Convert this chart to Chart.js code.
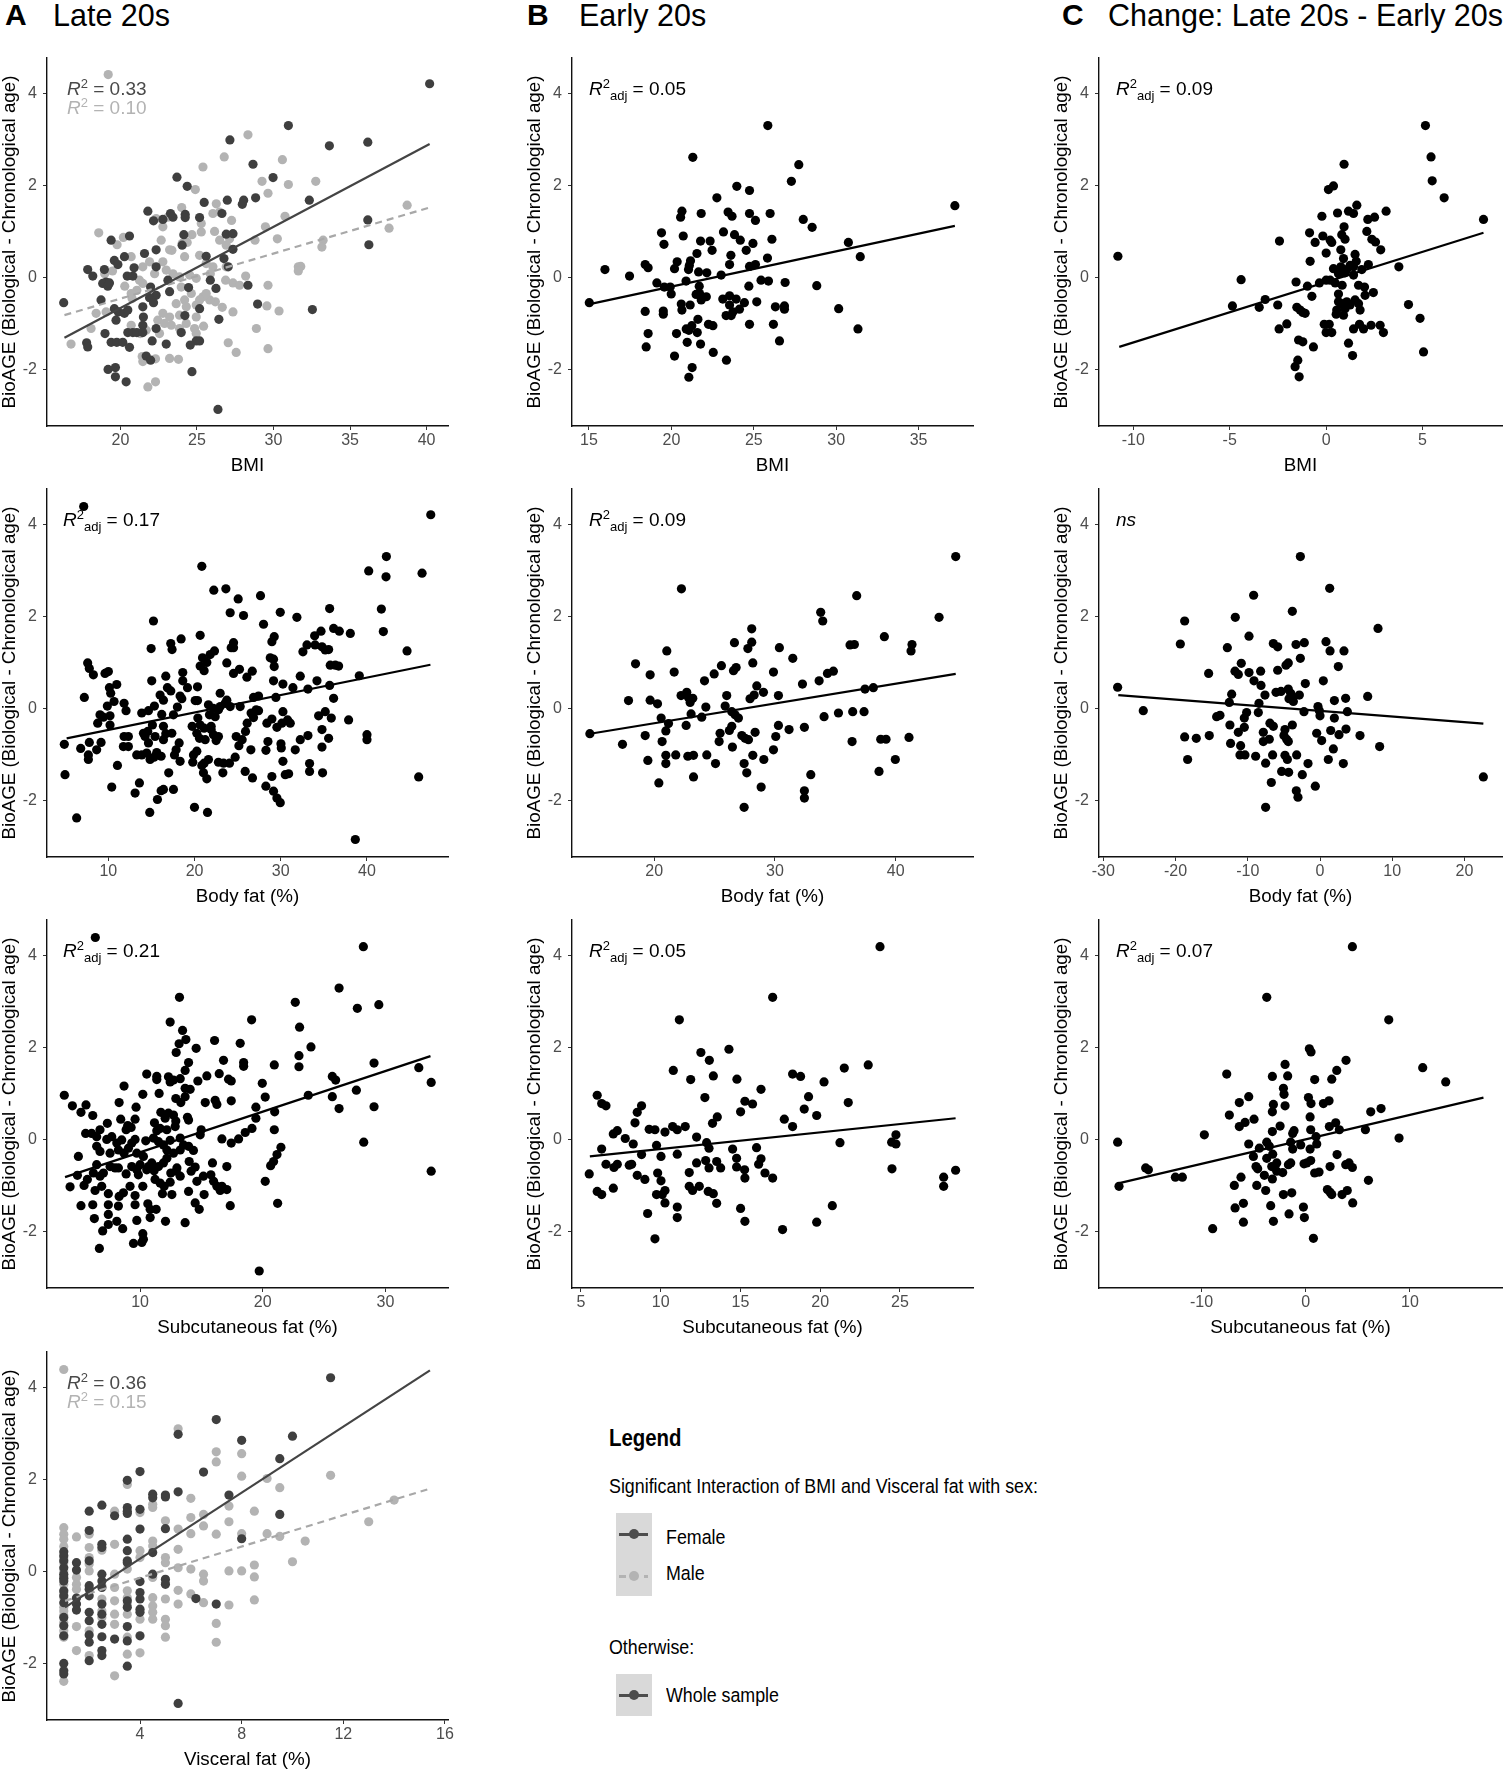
<!DOCTYPE html>
<html>
<head>
<meta charset="utf-8">
<script src="https://cdn.jsdelivr.net/npm/chart.js@4.4.1/dist/chart.umd.min.js"></script>
<style>
  body { margin: 0; background: #fff; font-family: "Liberation Sans", Arial, sans-serif; }
  #fig { position: relative; width: 1508px; height: 1772px; overflow: hidden; background: #fff; }
  .abs { position: absolute; white-space: nowrap; color: #000; }
  canvas { position: absolute; }
  .ptitle { font-size: 30.5px; line-height: 30px; top: 0; }
  .plet { font-size: 30px; line-height: 30px; top: 0; font-weight: bold; }
  .ann { font-size: 19px; line-height: 19px; z-index: 5; }
  .sup { font-size: 13px; position: relative; top: -7px; }
  .sub { font-size: 13px; position: relative; top: 5px; }
  .lg { transform: scaleX(0.87); transform-origin: 0 50%; font-size: 20.5px; line-height: 20.5px; }
  .key { position: absolute; background: #d9d9d9; }
  .seg { position: absolute; height: 3px; }
  .dot { position: absolute; width: 10px; height: 10px; border-radius: 50%; }
</style>
</head>
<body>
<div id="fig"></div>
<script>
// ---- values ----
const yTicks = [-2, 0, 2, 4];
const yRange = [-3.22, 4.78];

const bmiLateTicks = [20, 25, 30, 35, 40];
const bmiEarlyTicks = [15, 20, 25, 30, 35];
const bmiChangeTicks = [-10, -5, 0, 5];
const fatLateTicks = [10, 20, 30, 40];
const fatEarlyTicks = [20, 30, 40];
const fatChangeTicks = [-30, -20, -10, 0, 10, 20];
const subLateTicks = [10, 20, 30];
const subEarlyTicks = [5, 10, 15, 20, 25];
const subChangeTicks = [-10, 0, 10];
const visLateTicks = [4, 8, 12, 16];

// A: late 20s, BMI, by sex
const lateBmiF = [[40.2,4.22],[30.97,3.31],[27.15,3.0],[33.65,2.87],[36.16,2.95],[28.66,2.47],[29.97,2.18],[23.69,2.19],[24.36,1.99],[32.34,1.69],[36.16,1.26],[36.23,0.72],[28.83,1.74],[26.98,1.69],[28.05,1.69],[27.96,1.6],[25.47,1.64],[21.79,1.45],[23.27,1.4],[24.23,1.38],[24.23,1.31],[25.17,1.31],[22.16,1.24],[22.77,1.27],[23.43,1.32],[26.63,1.4],[20.59,0.91],[19.39,0.82],[24.14,0.94],[24.03,0.71],[26.91,0.95],[27.35,0.96],[27.35,0.62],[25.6,0.47],[26.76,0.42],[27.04,0.24],[21.57,0.53],[22.33,0.61],[20.26,0.46],[19.6,0.38],[19.83,0.29],[17.86,0.18],[18.19,0.04],[18.95,0.18],[20.89,0.22],[20.44,0.04],[20.81,0.04],[19.06,-0.09],[18.84,-0.12],[19.17,-0.18],[19.28,-0.11],[22.33,0.24],[23.1,-0.05],[23.21,-0.3],[24.45,-0.21],[25.87,-0.05],[26.24,-0.23],[28.33,-0.16],[21.97,-0.2],[22.33,-0.38],[21.9,-0.43],[18.73,-0.48],[16.29,-0.54],[22.16,-0.54],[21.46,-0.63],[19.6,-0.67],[19.86,-0.74],[20.26,-0.77],[20.48,-0.7],[19.71,-0.92],[21.5,-0.85],[24.21,-0.82],[25.17,-0.67],[28.96,-0.57],[32.54,-0.69],[26.43,-0.9],[21.46,-1.03],[22.33,-1.1],[20.48,-1.19],[20.81,-1.19],[21.07,-1.19],[21.46,-1.19],[23.97,-1.19],[18.99,-1.21],[22.07,-1.37],[22.99,-1.44],[19.39,-1.4],[19.76,-1.4],[20.15,-1.4],[17.79,-1.41],[17.86,-1.5],[20.59,-1.51],[24.95,-1.37],[25.17,-1.37],[24.56,-1.46],[21.68,-1.7],[21.97,-1.79],[19.19,-1.99],[19.67,-1.95],[19.67,-2.15],[20.37,-2.26],[24.67,-2.04],[26.37,-2.86]];
const lateBmiM = [[19.2,4.42],[28.33,3.11],[26.78,2.63],[25.39,2.41],[30.58,2.57],[29.25,2.1],[29.64,1.84],[30.97,2.03],[32.76,2.1],[24.89,1.92],[38.73,1.58],[37.55,1.08],[30.75,1.34],[29.47,1.11],[30.25,0.85],[28.79,0.82],[33.24,0.82],[33.16,0.67],[26.26,1.61],[26.04,1.4],[26.48,1.43],[24.0,1.53],[27.26,1.25],[25.28,1.18],[22.77,1.11],[22.33,1.29],[23.1,1.32],[18.58,0.98],[20.19,0.88],[19.78,0.72],[20.7,0.46],[22.66,0.82],[23.21,0.61],[23.36,0.6],[24.03,0.75],[24.67,0.94],[25.28,1.0],[26.15,1.01],[26.48,0.82],[27.13,0.85],[26.91,0.71],[24.36,0.77],[24.19,0.46],[25.17,0.49],[25.6,0.31],[26.04,0.24],[25.87,0.09],[26.91,0.24],[22.77,0.35],[21.9,0.35],[21.46,0.24],[22.23,0.09],[22.99,0.17],[23.43,0.09],[23.86,0.02],[24.52,0.06],[24.95,-0.01],[21.24,-0.05],[21.46,-0.12],[21.07,-0.27],[20.28,-0.18],[20.7,-0.34],[20.76,-0.45],[18.97,0.09],[19.48,0.15],[19.04,-0.12],[28.18,0.04],[27.35,-0.11],[27.78,-0.16],[29.64,-0.16],[26.87,-0.05],[31.62,0.24],[31.78,0.25],[31.62,0.15],[29.57,-0.61],[30.36,-0.72],[27.35,-0.74],[26.65,-0.64],[26.2,-0.52],[25.83,-0.48],[25.39,-0.41],[25.17,-0.48],[25.6,-0.34],[24.95,-0.59],[24.63,-0.34],[23.97,-0.2],[24.19,-0.48],[23.64,-0.56],[24.3,-0.63],[23.86,-0.81],[23.21,-0.85],[22.77,-0.77],[22.44,-0.92],[22.88,-0.99],[23.32,-1.03],[23.86,-1.1],[24.3,-0.99],[24.95,-0.85],[24.84,-1.1],[25.43,-1.05],[24.95,-1.21],[22.55,-1.21],[21.68,-1.14],[21.29,-1.21],[20.7,-1.03],[18.41,-0.77],[19.06,-0.74],[16.77,-1.44],[18.08,-1.1],[28.88,-1.1],[29.64,-1.54],[27.04,-1.41],[27.56,-1.62],[21.42,-1.71],[21.46,-1.82],[22.29,-1.76],[23.21,-1.75],[23.79,-1.77],[21.79,-2.37],[22.29,-2.26]];
const lateBmiFFit = [[16.34,-1.3],[40.2,2.91]];
const lateBmiMFit = [[16.34,-0.81],[40.2,1.53]];

// B: early 20s, BMI
const earlyBmi = [[25.85,3.31],[21.3,2.62],[27.73,2.46],[27.28,2.1],[23.97,1.99],[24.74,1.9],[22.76,1.74],[20.64,1.45],[20.56,1.32],[21.81,1.4],[23.44,1.43],[23.68,1.34],[24.74,1.4],[25.99,1.4],[25.1,1.25],[28.0,1.27],[28.54,1.1],[37.2,1.57],[19.4,0.98],[19.55,0.73],[20.72,0.91],[21.77,0.8],[22.35,0.8],[23.16,1.0],[23.83,0.94],[24.18,0.82],[24.95,0.75],[26.1,0.84],[24.54,0.6],[22.47,0.6],[21.55,0.53],[23.61,0.49],[30.74,0.77],[31.46,0.46],[25.83,0.43],[21.16,0.37],[20.35,0.35],[21.09,0.27],[23.53,0.29],[25.1,0.29],[24.74,0.25],[18.41,0.29],[18.59,0.22],[15.97,0.18],[17.46,0.04],[20.19,0.2],[21.04,0.18],[21.65,0.13],[22.15,0.11],[23.02,0.06],[20.89,-0.07],[19.12,-0.11],[19.57,-0.2],[19.93,-0.2],[19.99,-0.35],[21.69,-0.18],[25.44,-0.05],[25.89,-0.07],[26.9,-0.1],[28.82,-0.17],[24.7,-0.18],[21.5,-0.36],[21.81,-0.48],[22.12,-0.41],[21.71,-0.34],[23.53,-0.39],[23.12,-0.46],[23.93,-0.46],[24.43,-0.54],[25.18,-0.52],[15.02,-0.54],[20.6,-0.57],[21.14,-0.59],[23.53,-0.59],[26.31,-0.63],[26.86,-0.61],[26.86,-0.68],[30.15,-0.67],[18.41,-0.73],[19.51,-0.72],[19.51,-0.79],[20.64,-0.7],[24.13,-0.68],[23.73,-0.74],[23.32,-0.82],[23.63,-0.82],[21.61,-0.9],[24.74,-1.01],[26.19,-1.01],[22.25,-1.01],[22.52,-1.04],[21.24,-1.04],[20.9,-1.11],[21.06,-1.14],[31.32,-1.11],[18.59,-1.21],[20.31,-1.21],[21.57,-1.19],[20.96,-1.4],[21.77,-1.44],[26.56,-1.37],[18.47,-1.5],[20.19,-1.7],[22.54,-1.62],[23.34,-1.79],[21.26,-1.95],[21.06,-2.16]];
const earlyBmiFit = [[15.04,-0.57],[37.2,1.13]];

// C: change, BMI
const changeBmi = [[5.15,3.31],[5.44,2.63],[5.5,2.11],[6.12,1.74],[8.16,1.27],[0.93,2.47],[0.12,1.92],[0.38,2.0],[1.59,1.58],[1.16,1.45],[1.42,1.4],[0.59,1.41],[-0.22,1.34],[3.11,1.45],[2.51,1.32],[2.16,1.27],[0.93,1.11],[2.11,1.01],[-0.86,0.98],[-0.17,0.91],[0.81,0.94],[0.98,0.84],[0.29,0.77],[0.21,0.82],[-0.57,0.77],[2.37,0.84],[2.56,0.78],[2.83,0.61],[-2.42,0.8],[0.76,0.61],[0,0.54],[1.5,0.51],[0.9,0.42],[1.56,0.36],[1.24,0.27],[2.19,0.29],[3.77,0.24],[-0.83,0.36],[0.38,0.2],[0.76,0.24],[1.07,0.18],[1.42,0.24],[1.85,0.18],[0.64,0.09],[0.98,0.11],[1.42,0.06],[-10.8,0.47],[-4.41,-0.04],[-1.56,-0.09],[-0.35,-0.11],[0,-0.05],[0.21,-0.05],[0.47,-0.11],[-0.97,-0.18],[0.83,-0.16],[1.68,-0.16],[1.99,-0.2],[-0.74,-0.4],[0.64,-0.35],[2.02,-0.38],[2.45,-0.32],[-4.86,-0.61],[-3.47,-0.64],[-3.16,-0.47],[-2.51,-0.59],[-1.52,-0.64],[-1.35,-0.7],[-1.21,-0.75],[-1.09,-0.77],[0.64,-0.52],[0.81,-0.56],[1.07,-0.52],[1.24,-0.59],[1.5,-0.48],[1.68,-0.56],[1.76,-0.7],[0.98,-0.67],[0.55,-0.7],[0.52,-0.79],[0.9,-0.81],[4.27,-0.58],[4.87,-0.88],[-2.04,-1.0],[-2.44,-1.11],[-0.1,-1.01],[0.16,-1.01],[0,-1.19],[0.29,-1.19],[1.42,-1.11],[1.73,-1.01],[1.94,-1.11],[2.33,-1.03],[2.8,-1.03],[2.97,-1.19],[-1.43,-1.35],[-1.21,-1.39],[-0.66,-1.5],[1.16,-1.42],[1.37,-1.69],[5.05,-1.61],[-1.47,-1.79],[-1.61,-1.93],[-1.4,-2.15]];
const changeBmiFit = [[-10.73,-1.5],[8.16,0.98]];

// A: late 20s, body fat
const lateFat = [[7.14,4.4],[47.4,4.22],[20.84,3.1],[42.25,3.31],[40.2,3.0],[42.21,2.87],[46.39,2.95],[22.23,2.58],[23.63,2.61],[25.06,2.39],[27.65,2.46],[24.13,2.09],[25.68,2.03],[29.94,2.1],[31.87,1.99],[35.67,2.18],[41.67,2.17],[15.23,1.91],[28.0,1.84],[20.65,1.6],[18.44,1.52],[29.24,1.57],[28.97,1.46],[33.93,1.59],[34.67,1.69],[36.13,1.75],[36.79,1.69],[38.07,1.64],[41.9,1.68],[14.96,1.31],[17.24,1.42],[17.39,1.29],[24.52,1.44],[24.25,1.33],[24.52,1.33],[22.31,1.26],[21.81,1.18],[20.92,1.11],[21.42,1.01],[23.74,1.0],[20.65,0.93],[21.11,0.83],[25.21,0.86],[26.07,0.69],[26.69,0.82],[24.52,0.77],[33.04,1.39],[32.57,1.24],[33.98,1.39],[34.78,1.35],[35.16,1.28],[35.55,1.29],[28.78,1.11],[29.16,1.08],[29.24,0.92],[35.74,0.95],[36.33,0.95],[36.71,0.93],[44.65,1.26],[39.11,0.72],[7.6,1.0],[7.79,0.88],[8.26,0.74],[9.61,0.77],[10.0,0.81],[10.97,0.53],[10.12,0.46],[7.21,0.25],[10.27,0.34],[9.88,0.06],[10.66,0.16],[11.82,0.12],[12.05,-0.04],[9.03,-0.13],[9.42,-0.18],[8.76,-0.31],[10.19,-0.15],[10.19,-0.35],[15.03,0.61],[16.66,0.71],[16.85,0.46],[17.24,0.39],[16.0,0.3],[18.63,0.79],[18.63,0.61],[19.18,0.46],[18.32,0.28],[18.52,0.22],[18.01,0.04],[16.39,0.19],[15.34,0.06],[14.65,-0.04],[13.87,-0.09],[17.55,-0.13],[16.19,-0.12],[20.34,0.48],[20.07,0.18],[20.34,0.18],[19.72,-0.38],[20.38,-0.2],[20.65,-0.35],[20.26,-0.53],[20.57,-0.64],[21.23,-0.67],[21.11,-0.42],[21.73,-0.13],[21.61,0.09],[22.19,0.01],[22.77,-0.02],[22.39,-0.17],[22.97,0.05],[23.55,0.12],[24.13,0.05],[23.74,0.19],[25.29,0.05],[22.97,0.34],[21.92,-0.45],[22.19,-0.56],[22.5,-0.69],[22.77,-0.6],[21.92,-0.38],[24.83,-0.6],[25.14,-0.8],[25.52,-0.67],[26.1,-0.31],[25.91,-0.49],[26.56,-0.09],[27.15,-0.02],[26.84,-0.19],[27.42,-0.04],[26.84,0.25],[27.42,0.28],[29.43,0.25],[29.16,0.61],[30.25,0.54],[31.41,0.46],[32.26,0.71],[33.15,0.43],[34.2,0.61],[35.67,0.51],[36.13,0.23],[30.25,-0.06],[28.97,-0.22],[28.39,-0.31],[29.55,-0.4],[30.79,-0.24],[31.1,-0.31],[30.13,-0.31],[34.39,-0.15],[35.16,-0.06],[35.86,-0.2],[37.87,-0.24],[34.78,-0.45],[35.55,-0.64],[33.15,-0.58],[32.26,-0.67],[31.68,-0.89],[34.78,-0.83],[40.0,-0.56],[40.0,-0.67],[30.02,-0.76],[30.06,-0.85],[28.51,-0.71],[28.28,-0.9],[26.53,-0.89],[25.87,-1.36],[26.72,-1.5],[24.71,-1.05],[24.05,-1.18],[23.36,-1.18],[22.77,-1.16],[23.28,-1.39],[21.61,-1.1],[21.11,-1.18],[20.84,-1.23],[21.03,-1.39],[21.42,-1.52],[19.87,-1.0],[19.79,-1.16],[20.26,-0.92],[19.99,-2.14],[21.5,-2.25],[28.27,-1.68],[28.97,-1.47],[29.16,-1.79],[29.55,-1.94],[29.94,-2.04],[30.25,-1.14],[30.52,-1.43],[30.91,-1.41],[33.34,-1.19],[33.34,-1.36],[34.85,-1.39],[38.65,-2.84],[46.0,-1.48],[4.89,-0.77],[4.97,-1.43],[6.79,-0.86],[6.32,-2.37],[7.79,-0.73],[7.68,-1.0],[7.68,-1.1],[9.15,-0.73],[8.64,-0.89],[10.39,-1.7],[11.05,-1.23],[11.82,-0.6],[12.32,-0.6],[11.74,-0.82],[12.32,-0.82],[13.1,-1.83],[13.6,-1.61],[13.29,-1.0],[13.87,-1.0],[14.45,-0.96],[14.07,-0.53],[14.26,-0.6],[14.57,-0.49],[14.65,-0.74],[15.11,-0.35],[15.42,-0.6],[15.61,-0.95],[14.84,-1.1],[15.3,-1.05],[14.8,-2.25],[15.69,-1.97],[16.12,-1.78],[16.39,-1.75],[16.12,-1.03],[16.39,-0.38],[16.66,-0.54],[16.39,-0.67],[17.0,-1.39],[17.55,-1.75],[17.36,-0.53],[17.67,-1.0],[17.86,-0.89],[18.21,-0.74],[18.32,-1.14]];
const lateFatFit = [[5.16,-0.64],[47.36,0.96]];

// B: early 20s, body fat
const earlyFat = [[44.97,3.31],[22.26,2.61],[36.77,2.46],[33.79,2.1],[33.96,1.91],[43.59,1.99],[28.08,1.74],[39.06,1.57],[26.65,1.44],[28.08,1.45],[36.22,1.39],[36.58,1.4],[41.35,1.4],[41.27,1.26],[27.76,1.31],[30.37,1.33],[21.05,1.26],[31.48,1.1],[18.46,0.98],[28.17,1.0],[25.57,0.94],[24.97,0.76],[26.57,0.83],[26.79,0.9],[19.67,0.74],[21.66,0.8],[29.88,0.8],[34.35,0.77],[34.84,0.82],[33.66,0.61],[32.28,0.54],[24.17,0.61],[28.5,0.5],[29.05,0.36],[37.46,0.43],[38.15,0.46],[17.88,0.18],[19.67,0.19],[20.28,0.11],[22.23,0.29],[22.7,0.36],[22.84,0.25],[23.2,0.23],[22.98,0.14],[26.01,0.29],[27.94,0.22],[28.28,0.3],[30.29,0.29],[24.28,0.04],[25.88,0.06],[26.43,-0.06],[26.7,-0.13],[26.98,-0.2],[35.26,-0.09],[36.44,-0.06],[37.38,-0.06],[20.58,-0.2],[21.19,-0.32],[20.97,-0.48],[23.06,-0.11],[23.94,-0.18],[22.65,-0.36],[19.26,-0.58],[20.66,-0.71],[14.68,-0.54],[17.38,-0.77],[25.46,-0.53],[25.38,-0.71],[26.43,-0.38],[26.23,-0.47],[26.48,-0.83],[27.26,-0.58],[27.81,-0.67],[28.36,-0.51],[27.53,-0.64],[30.29,-0.36],[30.07,-0.6],[31.17,-0.45],[32.44,-0.4],[34.07,-0.17],[29.88,-0.89],[36.39,-0.71],[38.76,-0.66],[39.2,-0.66],[41.1,-0.62],[19.48,-1.12],[20.97,-1.01],[20.97,-1.19],[21.79,-1.0],[22.79,-1.03],[23.26,-1.01],[24.36,-1.0],[25.08,-1.19],[27.45,-1.19],[28.17,-1.01],[29.08,-1.1],[39.97,-1.1],[20.39,-1.61],[23.26,-1.48],[27.67,-1.39],[28.86,-1.7],[32.97,-1.43],[32.44,-1.78],[32.44,-1.94],[27.45,-2.14],[38.62,-1.36]];
const earlyFatFit = [[14.7,-0.54],[44.97,0.76]];

// C: change, body fat
const changeFat = [[-2.72,3.31],[1.34,2.62],[-9.19,2.47],[-3.83,2.12],[-11.73,1.99],[-18.74,1.91],[8.03,1.75],[-19.34,1.41],[-9.83,1.58],[-12.83,1.33],[-6.46,1.42],[-5.86,1.35],[-3.32,1.4],[-2.17,1.44],[0.83,1.46],[1.39,1.26],[3.32,1.26],[-2.72,1.1],[2.54,0.92],[-10.9,0.99],[-11.77,0.82],[-11.31,0.75],[-9.83,0.79],[-8.22,0.82],[-5.86,0.84],[-4.71,0.95],[-4.39,1.0],[-15.42,0.77],[-9.14,0.61],[-8.17,0.51],[-2.03,0.55],[0.46,0.61],[-28.02,0.47],[-12.23,0.32],[-7.62,0.3],[-6.09,0.36],[-5.4,0.38],[-4.39,0.43],[-4.06,0.34],[-2.86,0.3],[-4.29,0.22],[-3.69,0.16],[-3.79,0.25],[-12.56,0.14],[-8.45,0.12],[1.99,0.18],[3.55,0.23],[6.6,0.27],[-24.47,-0.04],[-0.28,0.05],[-0.09,-0.04],[0,-0.15],[-2.22,-0.06],[3.79,-0.06],[-14.31,-0.17],[-13.85,-0.14],[-10.16,-0.08],[-10.48,-0.2],[-8.54,-0.08],[1.99,-0.2],[-12.47,-0.35],[-10.48,-0.4],[-6.93,-0.31],[-6.46,-0.38],[-3.83,-0.35],[-11.31,-0.51],[-7.85,-0.51],[-4.85,-0.45],[-4.99,-0.58],[-4.62,-0.66],[-7.02,-0.66],[-7.85,-0.71],[-0.46,-0.53],[1.48,-0.47],[2.63,-0.56],[3.6,-0.44],[0.23,-0.69],[5.54,-0.58],[-18.74,-0.61],[-17.13,-0.64],[-15.33,-0.58],[-12.38,-0.75],[-10.99,-0.8],[-4.39,-0.71],[1.85,-0.87],[8.26,-0.82],[-18.33,-1.1],[-11.08,-1.0],[-10.39,-1.0],[-8.91,-1.03],[-6.56,-1.0],[-4.85,-1.01],[-4.52,-1.1],[-3.23,-1.0],[-7.53,-1.18],[-1.66,-1.19],[1.15,-1.1],[3.23,-1.19],[-5.31,-1.36],[-4.34,-1.38],[-2.45,-1.43],[-6.74,-1.6],[-0.65,-1.68],[-3.28,-1.78],[-3.05,-1.92],[-7.53,-2.14],[22.62,-1.48]];
const changeFatFit = [[-27.93,0.3],[22.62,-0.32]];

// A: late 20s, subcutaneous fat
const lateSub = [[6.35,4.4],[28.2,4.2],[13.21,3.1],[26.22,3.3],[27.71,2.86],[29.46,2.94],[22.65,2.99],[19.09,2.61],[12.45,2.56],[13.46,2.38],[13.73,2.18],[13.18,2.09],[16.07,2.16],[18.16,2.1],[23.0,2.45],[23.93,2.02],[14.57,1.99],[12.94,1.9],[13.95,1.68],[16.8,1.73],[18.44,1.68],[18.44,1.6],[20.94,1.63],[22.95,1.83],[22.95,1.59],[29.07,1.67],[32.72,1.57],[33.73,1.25],[13.67,1.51],[10.54,1.43],[11.36,1.38],[11.36,1.31],[12.31,1.37],[12.45,1.26],[12.72,1.3],[13.27,1.33],[14.71,1.28],[15.44,1.39],[16.45,1.44],[17.21,1.32],[17.43,1.28],[19.96,1.23],[25.67,1.38],[25.94,1.3],[27.63,1.08],[25.67,0.94],[26.22,0.68],[29.07,0.72],[23.71,0.97],[20.2,0.93],[3.82,0.97],[8.69,1.17],[10.22,0.99],[11.55,1.01],[13.67,1.12],[14.08,1.1],[12.91,0.9],[13.32,0.81],[13.67,0.94],[15.31,0.81],[16.12,0.86],[16.26,0.77],[17.43,0.85],[4.48,0.74],[5.59,0.76],[5.18,0.6],[6.14,0.53],[8.29,0.81],[9.67,0.71],[7.33,0.36],[8.42,0.45],[9.59,0.45],[8.99,0.31],[8.86,0.22],[9.27,0.27],[11.17,0.37],[11.69,0.6],[12.04,0.47],[12.31,0.58],[12.72,0.54],[12.91,0.41],[13.86,0.49],[13.95,0.43],[12.86,0.29],[11.36,0.2],[11.63,0.25],[12.18,0.22],[14.98,0.22],[14.9,0.11],[19.44,0.71],[19.44,0.47],[19.12,0.25],[18.57,0.16],[18.03,0.02],[16.67,0.02],[17.43,-0.07],[20.97,0.61],[20.94,0.22],[5.56,0.14],[6.05,0.14],[6.46,0.07],[6.73,0.22],[7.28,0.01],[7.69,0.07],[8.1,-0.07],[8.5,0],[9.32,-0.07],[9.59,0.01],[10.46,-0.02],[11.09,0.04],[11.5,-0.04],[11.9,-0.11],[12.45,-0.01],[13.27,0.04],[13.54,-0.11],[12.18,-0.22],[12.72,-0.29],[13.27,-0.22],[13.95,-0.14],[14.35,-0.23],[6.46,-0.14],[6.73,-0.25],[7.55,-0.29],[8.23,-0.22],[8.69,-0.29],[9.05,-0.18],[9.73,-0.29],[10.27,-0.36],[4.97,-0.36],[4.89,-0.77],[4.29,-1.02],[5.18,-1.43],[5.43,-0.99],[5.7,-0.86],[6.46,-0.54],[6.19,-0.72],[6.73,-0.79],[7.01,-0.72],[6.87,-1.01],[6.33,-1.1],[6.14,-1.41],[6.27,-1.71],[6.68,-2.36],[6.95,-1.98],[7.41,-1.17],[7.55,-0.58],[7.96,-0.61],[8.23,-0.61],[8.86,-0.74],[7.41,-1.41],[7.41,-1.62],[7.41,-1.84],[8.1,-1.77],[8.23,-1.44],[8.29,-1.23],[8.64,-1.15],[8.58,-1.93],[9.18,-1.01],[9.59,-1.21],[9.59,-1.41],[9.73,-1.75],[9.46,-2.25],[10.22,-2.04],[10.27,-2.16],[10.14,-2.23],[9.32,-0.58],[9.73,-0.65],[9.86,-0.76],[10.0,-0.54],[10.22,-1.01],[10.54,-0.65],[10.68,-0.58],[10.95,-0.5],[11.14,-0.67],[11.5,-0.58],[11.9,-0.5],[10.63,-1.39],[10.82,-1.51],[11.31,-1.51],[10.82,-1.69],[11.22,-0.86],[11.63,-0.94],[11.96,-1.01],[11.82,-1.17],[12.07,-1.77],[12.18,-0.4],[12.5,-0.72],[12.45,-0.92],[12.59,-1.19],[12.94,-0.68],[13.27,-0.79],[13.0,-0.61],[13.67,-1.8],[13.95,-1.12],[14.0,-0.47],[14.16,-0.68],[14.49,-0.59],[14.63,-0.9],[14.49,-1.37],[14.82,-1.51],[15.22,-1.19],[15.16,-0.79],[15.77,-0.76],[15.9,-0.5],[15.99,-0.9],[16.26,-1.01],[16.53,-1.1],[16.67,-1.01],[17.07,-1.08],[17.07,-0.58],[17.35,-1.43],[20.2,-0.9],[20.64,-0.56],[20.88,-0.47],[21.16,-0.32],[21.48,-0.16],[21.21,-1.38],[19.71,-2.85],[28.23,-0.05],[33.73,-0.68]];
const lateSubFit = [[3.88,-0.81],[33.67,1.82]];

// B: early 20s, subcutaneous fat
const earlySub = [[23.75,4.2],[17.02,3.1],[11.17,2.61],[14.28,1.97],[12.52,1.9],[13.05,1.73],[23.01,1.63],[21.51,1.56],[10.79,1.51],[13.3,1.39],[18.27,1.43],[18.77,1.38],[11.88,1.31],[14.78,1.32],[20.24,1.26],[16.29,1.1],[6.02,0.97],[6.3,0.79],[6.57,0.74],[8.8,0.74],[8.53,0.6],[12.77,0.92],[15.28,0.84],[15.76,0.78],[15.01,0.61],[19.27,0.94],[19.0,0.67],[21.76,0.81],[19.78,0.53],[8.39,0.37],[13.55,0.5],[13.25,0.36],[17.75,0.45],[18.27,0.29],[7.03,0.13],[7.28,0.2],[7.78,0.03],[9.28,0.23],[9.64,0.22],[10.27,0.17],[10.75,0.29],[11.04,0.22],[11.54,0.29],[12.25,0.06],[12.88,-0.06],[13.03,-0.18],[9.74,-0.12],[8.28,-0.09],[6.3,-0.2],[8.8,-0.32],[10.02,-0.36],[11.04,-0.31],[14.51,-0.2],[16.01,-0.17],[21.24,-0.06],[24.48,-0.05],[24.75,-0.09],[24.75,0.11],[6.57,-0.53],[7.28,-0.53],[7.07,-0.6],[8.03,-0.55],[8.18,-0.53],[5.52,-0.74],[8.53,-0.77],[9.01,-0.86],[9.81,-0.72],[10.02,-0.89],[12.25,-0.5],[12.82,-0.45],[13.03,-0.61],[13.51,-0.47],[13.76,-0.61],[14.76,-0.4],[14.76,-0.59],[15.26,-0.65],[15.28,-0.83],[16.14,-0.53],[16.29,-0.41],[16.54,-0.72],[17.02,-0.83],[11.79,-0.71],[24.5,-0.63],[27.74,-0.81],[27.74,-1.01],[28.49,-0.66],[6.02,-1.12],[6.3,-1.19],[7.03,-1.05],[9.74,-1.19],[10.1,-1.19],[10.27,-1.1],[10.27,-1.37],[11.79,-1.01],[12.0,-1.1],[12.42,-1.01],[12.98,-1.12],[13.3,-1.17],[13.51,-1.38],[11.04,-1.46],[11.04,-1.69],[9.18,-1.6],[9.64,-2.15],[15.01,-1.49],[15.28,-1.77],[20.76,-1.43],[19.78,-1.79],[17.64,-1.95]];
const earlySubFit = [[5.56,-0.36],[28.49,0.47]];

// C: change, subcutaneous fat
const changeSub = [[4.48,4.2],[-3.74,3.1],[7.97,2.61],[0.35,1.98],[0.51,1.91],[3.87,1.73],[-1.98,1.64],[11.23,1.57],[-7.58,1.43],[-3.2,1.38],[-1.73,1.39],[2.98,1.51],[2.5,1.32],[0.86,1.31],[13.44,1.26],[-2.14,1.12],[-2.08,0.99],[-5.47,0.94],[-6.37,0.81],[-3.1,0.77],[-1.98,0.74],[0.26,0.92],[0.51,0.79],[1.7,0.79],[2.24,0.85],[-3.2,0.61],[-7.33,0.54],[6.24,0.61],[7.23,0.68],[-4.96,0.45],[-5.82,0.38],[-6.37,0.29],[-2.46,0.3],[-3.2,0.18],[-1.12,0.2],[-1.25,0.14],[0.42,0.5],[0.48,0.22],[2.27,0.29],[2.88,0.37],[3.23,0.22],[5.73,0.22],[-9.73,0.11],[8.96,0.04],[-18.05,-0.05],[0.99,0.07],[1.06,-0.09],[-5.47,-0.09],[-3.74,-0.05],[-3.49,-0.14],[-4.45,-0.18],[-1.44,-0.05],[-1.25,-0.2],[-0.48,-0.11],[0.42,-0.2],[-5.02,-0.36],[-3.74,-0.4],[-3.17,-0.31],[3.01,-0.32],[-1.44,-0.5],[-1.66,-0.54],[-0.16,-0.52],[0.1,-0.5],[0.48,-0.45],[-4.77,-0.58],[-4.61,-0.63],[-3.26,-0.58],[-2.78,-0.5],[-2.78,-0.68],[-2.21,-0.71],[-3.97,-0.77],[-3.2,-0.85],[0.86,-0.72],[1.28,-0.7],[2.34,-0.58],[3.84,-0.54],[4.16,-0.5],[4.48,-0.6],[-6.21,-0.81],[-15.36,-0.61],[-15.1,-0.65],[-12.51,-0.81],[-11.84,-0.81],[-17.92,-1.01],[-6.85,-0.99],[-4.7,-0.99],[-3.84,-1.1],[-2.14,-1.19],[-1.34,-1.15],[6.02,-0.88],[2.08,-1.08],[2.34,-1.14],[2.5,-1.19],[3.49,-1.19],[3.99,-1.1],[4.51,-1.37],[-6.78,-1.48],[-5.98,-1.38],[-3.36,-1.43],[-0.22,-1.46],[-1.6,-1.61],[-0.13,-1.69],[-5.98,-1.79],[-3.1,-1.77],[-8.93,-1.93],[0.74,-2.14]];
const changeSubFit = [[-17.89,-0.94],[17.06,0.92]];

// A: late 20s, visceral fat, by sex
const lateVisF = [[1,0.44],[1,0.35],[1,0.24],[1,0.09],[1,-0.05],[1,-0.14],[1,-0.2],[1,-0.41],[1,-0.52],[1,-0.67],[1,-0.99],[1,-1.17],[1,-1.39],[1,-1.99],[1,-2.15],[1,-2.22],[1.5,0.2],[1.5,0.04],[1.5,-0.57],[1.5,-0.7],[1.5,-0.83],[2,1.32],[2,0.9],[2,0.24],[2,-0.3],[2,-0.38],[2,-0.52],[2,-0.88],[2,-1.06],[2,-1.37],[2,-1.53],[2,-1.93],[2.5,1.45],[2.5,0.6],[2.5,0.53],[2.5,-0.05],[2.5,-0.2],[2.5,-0.34],[2.5,-0.7],[2.5,-0.92],[2.5,-1.14],[2.5,-1.41],[2.5,-1.71],[2.5,-1.82],[3,1.22],[3,-1.46],[3.5,1.99],[3.5,1.4],[3.5,1.32],[3.5,1.27],[3.5,0.71],[3.5,0.46],[3.5,0.24],[3.5,0.2],[3.5,-0.63],[3.5,-0.77],[3.5,-1.19],[3.5,-1.5],[3.5,-2.05],[4,2.18],[4,1.36],[4,0.93],[4,-0.21],[4,-0.45],[4,-0.59],[4,-0.81],[4,-0.88],[4,-1.39],[4.5,1.69],[4.5,1.61],[4.5,0.42],[4.5,-0.05],[5,1.67],[5,1.63],[5,0.94],[5,-0.16],[5,-0.27],[5.5,2.99],[5.5,1.74],[5.5,-2.86],[6.2,-0.58],[6.5,2.17],[7,3.31],[7,-0.7],[7.5,1.67],[8,2.86],[8,0.72],[9.5,2.46],[9.5,1.25],[10,2.95],[11.5,4.22]];
const lateVisM = [[1,4.4],[1,0.96],[1,0.82],[1,0.71],[1,0.55],[1,0.3],[1,0.2],[1,0.02],[1,-0.1],[1,-0.27],[1,-0.45],[1,-0.56],[1,-0.77],[1,-0.85],[1,-0.95],[1,-1.1],[1,-1.28],[1,-1.42],[1,-2.38],[1.5,0.76],[1.5,-0.12],[1.5,-0.27],[1.5,-0.38],[1.5,-1.19],[1.5,-1.71],[2,0.82],[2,0.53],[2,0.31],[2,0.17],[2,0.02],[2,-1.28],[2,-1.82],[2.5,0.47],[2.5,-0.3],[2.5,-0.59],[2.5,-0.85],[2.5,-0.99],[3,1.32],[3,0.6],[3,-0.05],[3,-0.34],[3,-0.63],[3,-0.92],[3,-1.14],[3,-2.26],[3.5,1.9],[3.5,0.06],[3.5,-0.41],[3.5,-0.56],[3.5,-0.7],[3.5,-0.92],[3.5,-1.42],[3.5,-1.79],[4,1.29],[4,0.46],[4,0.31],[4,-1.03],[4,-1.76],[4.5,1.47],[4.5,1.4],[4.5,0.67],[4.5,0.56],[4.5,-0.12],[4.5,-0.56],[4.5,-0.74],[4.5,-0.88],[4.5,-1.03],[5,1.11],[5,0.31],[5,0.2],[5,-0.23],[5,-0.59],[5,-1.03],[5,-1.17],[5,-1.42],[5.5,3.11],[5.5,0.93],[5.5,0.49],[5.5,0.09],[5.5,-0.4],[5.5,-0.7],[6,1.6],[6,1.18],[6,0.83],[6,0.06],[6,-0.48],[6.5,1.25],[6.5,1.0],[6.5,-0.05],[6.5,-0.2],[6.5,-0.67],[7,2.61],[7,2.39],[7,0.82],[7,-1.12],[7,-1.53],[7.5,1.43],[7.5,1.09],[7.5,0.02],[7.5,-0.72],[8,2.57],[8,2.08],[8,0.83],[8,0.02],[8.5,1.32],[8.5,0.15],[8.5,-0.11],[8.5,-0.61],[9,2.03],[9,0.83],[9.5,1.83],[9.5,0.77],[10,0.22],[10.5,0.67],[11.5,2.1],[13,1.09],[14,1.56]];
const lateVisFFit = [[1.05,-0.77],[15.41,4.38]];
const lateVisMFit = [[1.05,-0.63],[15.41,1.81]];

// ---- layout and styles ----
const FONT = '"Liberation Sans", Arial, sans-serif';
const colX = [47, 572, 1099];
const colW = [401, 401, 403];
const rowY = [58, 489, 920, 1352];
const plotH = 368;
const FEMALE = '#3f3f3f', MALE = '#b3b3b3', WHOLE = '#000000';
const yTitle = 'BioAGE (Biological - Chronological age)';

Chart.defaults.font.family = FONT;

const fig = document.getElementById('fig');

function toXY(arr) { return arr.map(p => ({ x: p[0], y: p[1] })); }

function pointSet(arr, color, order) {
  return { data: toXY(arr), backgroundColor: color, borderColor: color, borderWidth: 0,
           pointRadius: 4.6, pointHoverRadius: 4.6, order: order, clip: false };
}
function fitSet(arr, color, dash, order) {
  return { data: toXY(arr), showLine: true, pointRadius: 0, borderColor: color, borderWidth: 2.2,
           borderDash: dash, fill: false, order: order, clip: false };
}

function addPanel(p) {
  const padL = 48, padT = 24, padR = 22, padB = 51;
  const w = padL + colW[p.col] + padR, h = padT + plotH + padB;
  const cv = document.createElement('canvas');
  cv.width = w; cv.height = h;
  cv.style.left = (colX[p.col] - padL) + 'px';
  cv.style.top = (rowY[p.row] - padT) + 'px';
  cv.style.width = w + 'px'; cv.style.height = h + 'px';
  fig.appendChild(cv);

  const tickGrid = { display: true, drawOnChartArea: false, drawTicks: true, tickLength: 4, color: '#333', lineWidth: 1 };
  const axisBorder = { display: true, color: '#111', width: 1.4 };

  new Chart(cv, {
    type: 'scatter',
    data: { datasets: p.sets },
    options: {
      responsive: false, animation: false, events: [],
      layout: { padding: { left: 0, top: padT, right: padR, bottom: 0 } },
      plugins: { legend: { display: false }, tooltip: { enabled: false } },
      scales: {
        x: {
          type: 'linear', position: 'bottom', min: p.xr[0], max: p.xr[1],
          afterBuildTicks: s => { s.ticks = p.xt.map(v => ({ value: v })); },
          afterFit: s => { s.height = padB; },
          grid: tickGrid, border: axisBorder,
          ticks: { autoSkip: false, maxRotation: 0, padding: 1, color: '#4d4d4d', font: { size: 16 }, callback: v => String(v) },
          title: { display: true, text: p.xTitle, color: '#000', font: { size: 18.8 }, padding: 0 }
        },
        y: {
          type: 'linear', position: 'left', min: yRange[0], max: yRange[1],
          afterBuildTicks: s => { s.ticks = yTicks.map(v => ({ value: v })); },
          afterFit: s => { s.width = padL; },
          grid: tickGrid, border: axisBorder,
          ticks: { autoSkip: false, padding: 6, color: '#4d4d4d', font: { size: 16 }, callback: v => String(v) },
          title: { display: true, text: yTitle, color: '#000', font: { size: 18.8 }, padding: 0 }
        }
      }
    }
  });

  // fit statistics text
  p.ann.forEach((a, i) => {
    const d = document.createElement('div');
    d.className = 'abs ann';
    d.style.color = a.color;
    d.style.left = (colX[p.col] + a.dx) + 'px';
    d.style.top = (rowY[p.row] + 20.7 + i * 19) + 'px';
    d.innerHTML = a.html;
    fig.appendChild(d);
  });
}

const r2 = v => '<i>R</i><span class="sup">2</span> = ' + v;
const r2adj = v => '<i>R</i><span class="sup">2</span><span class="sub">adj</span> = ' + v;

const sexSets = (f, m, ff, mf) => [
  fitSet(ff, '#444444', [], 0), fitSet(mf, '#a8a8a8', [7, 5], 1),
  pointSet(f, FEMALE, 2), pointSet(m, MALE, 3)
];
const wholeSets = (pts, fit) => [fitSet(fit, '#000', [], 0), pointSet(pts, WHOLE, 1)];

const panels = [
  { col: 0, row: 0, xr: [15.2, 41.4], xt: bmiLateTicks, xTitle: 'BMI',
    sets: sexSets(lateBmiF, lateBmiM, lateBmiFFit, lateBmiMFit),
    ann: [{ html: r2('0.33'), color: '#4a4a4a', dx: 20 }, { html: r2('0.10'), color: '#b3b3b3', dx: 20 }] },
  { col: 1, row: 0, xr: [13.97, 38.3], xt: bmiEarlyTicks, xTitle: 'BMI',
    sets: wholeSets(earlyBmi, earlyBmiFit), ann: [{ html: r2adj('0.05'), color: '#000', dx: 17 }] },
  { col: 2, row: 0, xr: [-11.78, 9.12], xt: bmiChangeTicks, xTitle: 'BMI',
    sets: wholeSets(changeBmi, changeBmiFit), ann: [{ html: r2adj('0.09'), color: '#000', dx: 17 }] },
  { col: 0, row: 1, xr: [2.88, 49.4], xt: fatLateTicks, xTitle: 'Body fat (%)',
    sets: wholeSets(lateFat, lateFatFit), ann: [{ html: r2adj('0.17'), color: '#000', dx: 16 }] },
  { col: 1, row: 1, xr: [13.2, 46.4], xt: fatEarlyTicks, xTitle: 'Body fat (%)',
    sets: wholeSets(earlyFat, earlyFatFit), ann: [{ html: r2adj('0.09'), color: '#000', dx: 17 }] },
  { col: 2, row: 1, xr: [-30.6, 25.2], xt: fatChangeTicks, xTitle: 'Body fat (%)',
    sets: wholeSets(changeFat, changeFatFit), ann: [{ html: '<i>ns</i>', color: '#000', dx: 17 }] },
  { col: 0, row: 2, xr: [2.41, 35.1], xt: subLateTicks, xTitle: 'Subcutaneous fat (%)',
    sets: wholeSets(lateSub, lateSubFit), ann: [{ html: r2adj('0.21'), color: '#000', dx: 16 }] },
  { col: 1, row: 2, xr: [4.44, 29.58], xt: subEarlyTicks, xTitle: 'Subcutaneous fat (%)',
    sets: wholeSets(earlySub, earlySubFit), ann: [{ html: r2adj('0.05'), color: '#000', dx: 17 }] },
  { col: 2, row: 2, xr: [-19.84, 18.84], xt: subChangeTicks, xTitle: 'Subcutaneous fat (%)',
    sets: wholeSets(changeSub, changeSubFit), ann: [{ html: r2adj('0.07'), color: '#000', dx: 17 }] },
  { col: 0, row: 3, xr: [0.34, 16.12], xt: visLateTicks, xTitle: 'Visceral fat (%)',
    sets: sexSets(lateVisF, lateVisM, lateVisFFit, lateVisMFit),
    ann: [{ html: r2('0.36'), color: '#4a4a4a', dx: 20 }, { html: r2('0.15'), color: '#b3b3b3', dx: 20 }] }
];

panels.forEach(addPanel);

// column titles
function addText(cls, txt, left, top, extra) {
  const d = document.createElement('div');
  d.className = 'abs ' + cls;
  d.style.left = left + 'px';
  if (top !== null) d.style.top = top + 'px';
  if (extra) Object.assign(d.style, extra);
  d.textContent = txt;
  fig.appendChild(d);
  return d;
}
addText('plet', 'A', 5, 0);
addText('ptitle', 'Late 20s', 53, 0);
addText('plet', 'B', 527, 0);
addText('ptitle', 'Early 20s', 579, 0);
addText('plet', 'C', 1062, 0);
addText('ptitle', 'Change: Late 20s - Early 20s', 1108, 0);

// legend panel
addText('lg', 'Legend', 609, 1426, { fontWeight: 'bold', fontSize: '24px', lineHeight: '24px', transform: 'scaleX(0.85)' });
addText('lg', 'Significant Interaction of BMI and Visceral fat with sex:', 609, 1476);
addText('lg', 'Female', 666, 1527);
addText('lg', 'Male', 666, 1563);
addText('lg', 'Otherwise:', 609, 1637);
addText('lg', 'Whole sample', 666, 1685);

function addBox(left, top, w, h, cls, color) {
  const d = document.createElement('div');
  d.className = cls;
  Object.assign(d.style, { left: left + 'px', top: top + 'px', width: w + 'px', height: h + 'px' });
  if (color) d.style.background = color;
  fig.appendChild(d);
}
addBox(616, 1513, 36, 83, 'key');
addBox(616, 1674, 36, 42, 'key');
// female key
addBox(619, 1532.5, 29, 3, 'seg', '#4d4d4d');
addBox(629, 1529, 10, 10, 'dot', '#4d4d4d');
// male key
addBox(619, 1574.5, 7, 3, 'seg', '#b3b3b3');
addBox(644, 1574.5, 4, 3, 'seg', '#b3b3b3');
addBox(629, 1571, 10, 10, 'dot', '#b3b3b3');
// whole sample key
addBox(619, 1693.5, 29, 3, 'seg', '#4d4d4d');
addBox(629, 1690, 10, 10, 'dot', '#4d4d4d');
</script>
</body>
</html>
